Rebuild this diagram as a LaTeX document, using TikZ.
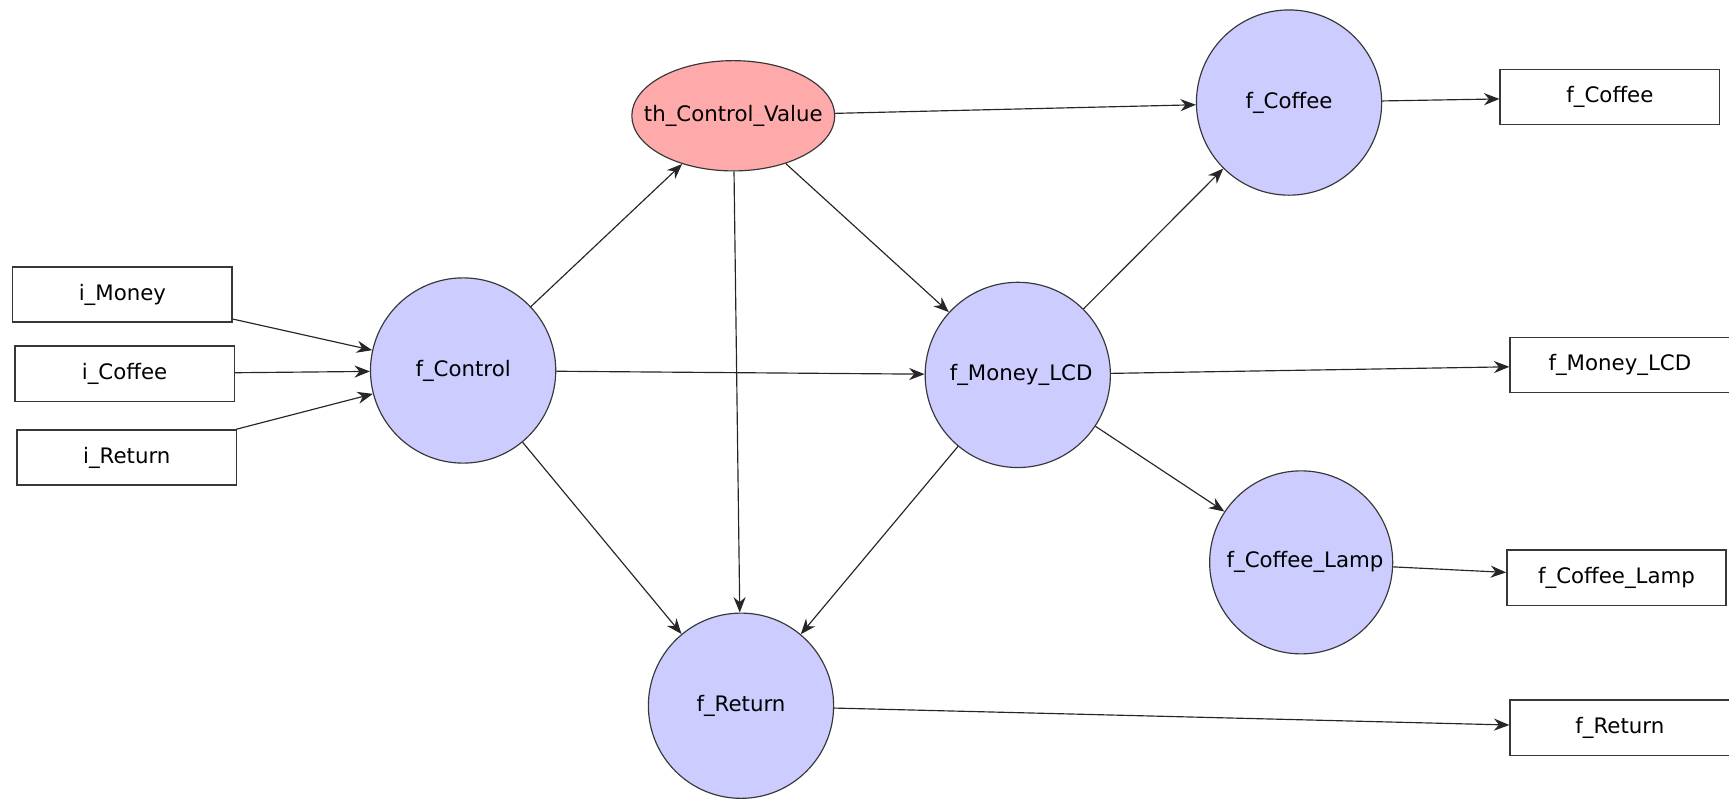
\documentclass[tikz,border=0pt]{standalone}
\usepackage{fontspec}
\setmainfont{DejaVu Sans}
\usetikzlibrary{shapes.geometric,arrows.meta}

\begin{document}
\begin{tikzpicture}[x=0.2mm, y=-0.2mm, every node/.style={font=\fontsize{11}{13}\selectfont}]
    % Define colors
    \definecolor{funcfill}{RGB}{204,204,255}
    \definecolor{threshfill}{RGB}{255,170,170}
    \definecolor{edgegray}{RGB}{55,55,55}

    % Define styles
    \tikzstyle{func} = [circle, draw=edgegray, line width=0.6pt, fill=funcfill, minimum size=33.6mm, inner sep=0pt]
    \tikzstyle{thresh} = [ellipse, draw=edgegray, line width=0.6pt, fill=threshfill, minimum width=36.8mm, minimum height=20mm, inner sep=0pt]
    \tikzstyle{port} = [rectangle, draw=edgegray, line width=0.8pt, minimum width=39.8mm, minimum height=10mm, inner sep=0pt]
    \tikzstyle{flow} = [-{Stealth[length=2.8mm, width=2.2mm]}, line width=0.6pt, black!85]

    \useasboundingbox (0,0) rectangle (1568,724);

    % Inputs
    \node[port] (iMoney) at (111,267) {i\_Money};
    \node[port] (iCoffee) at (113,339) {i\_Coffee};
    \node[port] (iReturn) at (115,415) {i\_Return};

    % Functions and threshold
    \node[func] (fControl) at (420,336) {\makebox[0pt]{f\_Control}};
    \node[thresh] (thValue) at (665,105) {\makebox[0pt]{th\_Control\_Value}};
    \node[func] (fMoney) at (923,340) {\makebox[0pt]{\hspace{1.2mm}f\_Money\_LCD}};
    \node[func] (fCoffee) at (1169,93) {\makebox[0pt]{f\_Coffee}};
    \node[func, minimum size=33.2mm] (fLamp) at (1180,510) {\makebox[0pt]{\hspace{1.4mm}f\_Coffee\_Lamp}};
    \node[func] (fReturn) at (672,640) {\makebox[0pt]{f\_Return}};

    % Outputs
    \node[port] (oCoffee) at (1460,88) {f\_Coffee};
    \node[port] (oMoney) at (1469,331) {f\_Money\_LCD};
    \node[port] (oLamp) at (1466,524) {f\_Coffee\_Lamp};
    \node[port] (oReturn) at (1469,660) {f\_Return};

    % Arrows
    \draw[flow] (iMoney) -- (fControl);
    \draw[flow] (iCoffee) -- (fControl);
    \draw[flow] (iReturn) -- (fControl);
    \draw[flow] (fControl) -- (thValue);
    \draw[flow] (fControl) -- (fMoney);
    \draw[flow] (fControl) -- (fReturn);
    \draw[flow] (thValue) -- (fCoffee);
    \draw[flow] (thValue) -- (fMoney);
    \draw[flow] (thValue) -- (fReturn);
    \draw[flow] (fMoney) -- (fCoffee);
    \draw[flow] (fMoney) -- (fLamp);
    \draw[flow] (fMoney) -- (fReturn);
    \draw[flow] (fMoney) -- (oMoney);
    \draw[flow] (fCoffee) -- (oCoffee);
    \draw[flow] (fLamp) -- (oLamp);
    \draw[flow] (fReturn) -- (oReturn);
\end{tikzpicture}
\end{document}
